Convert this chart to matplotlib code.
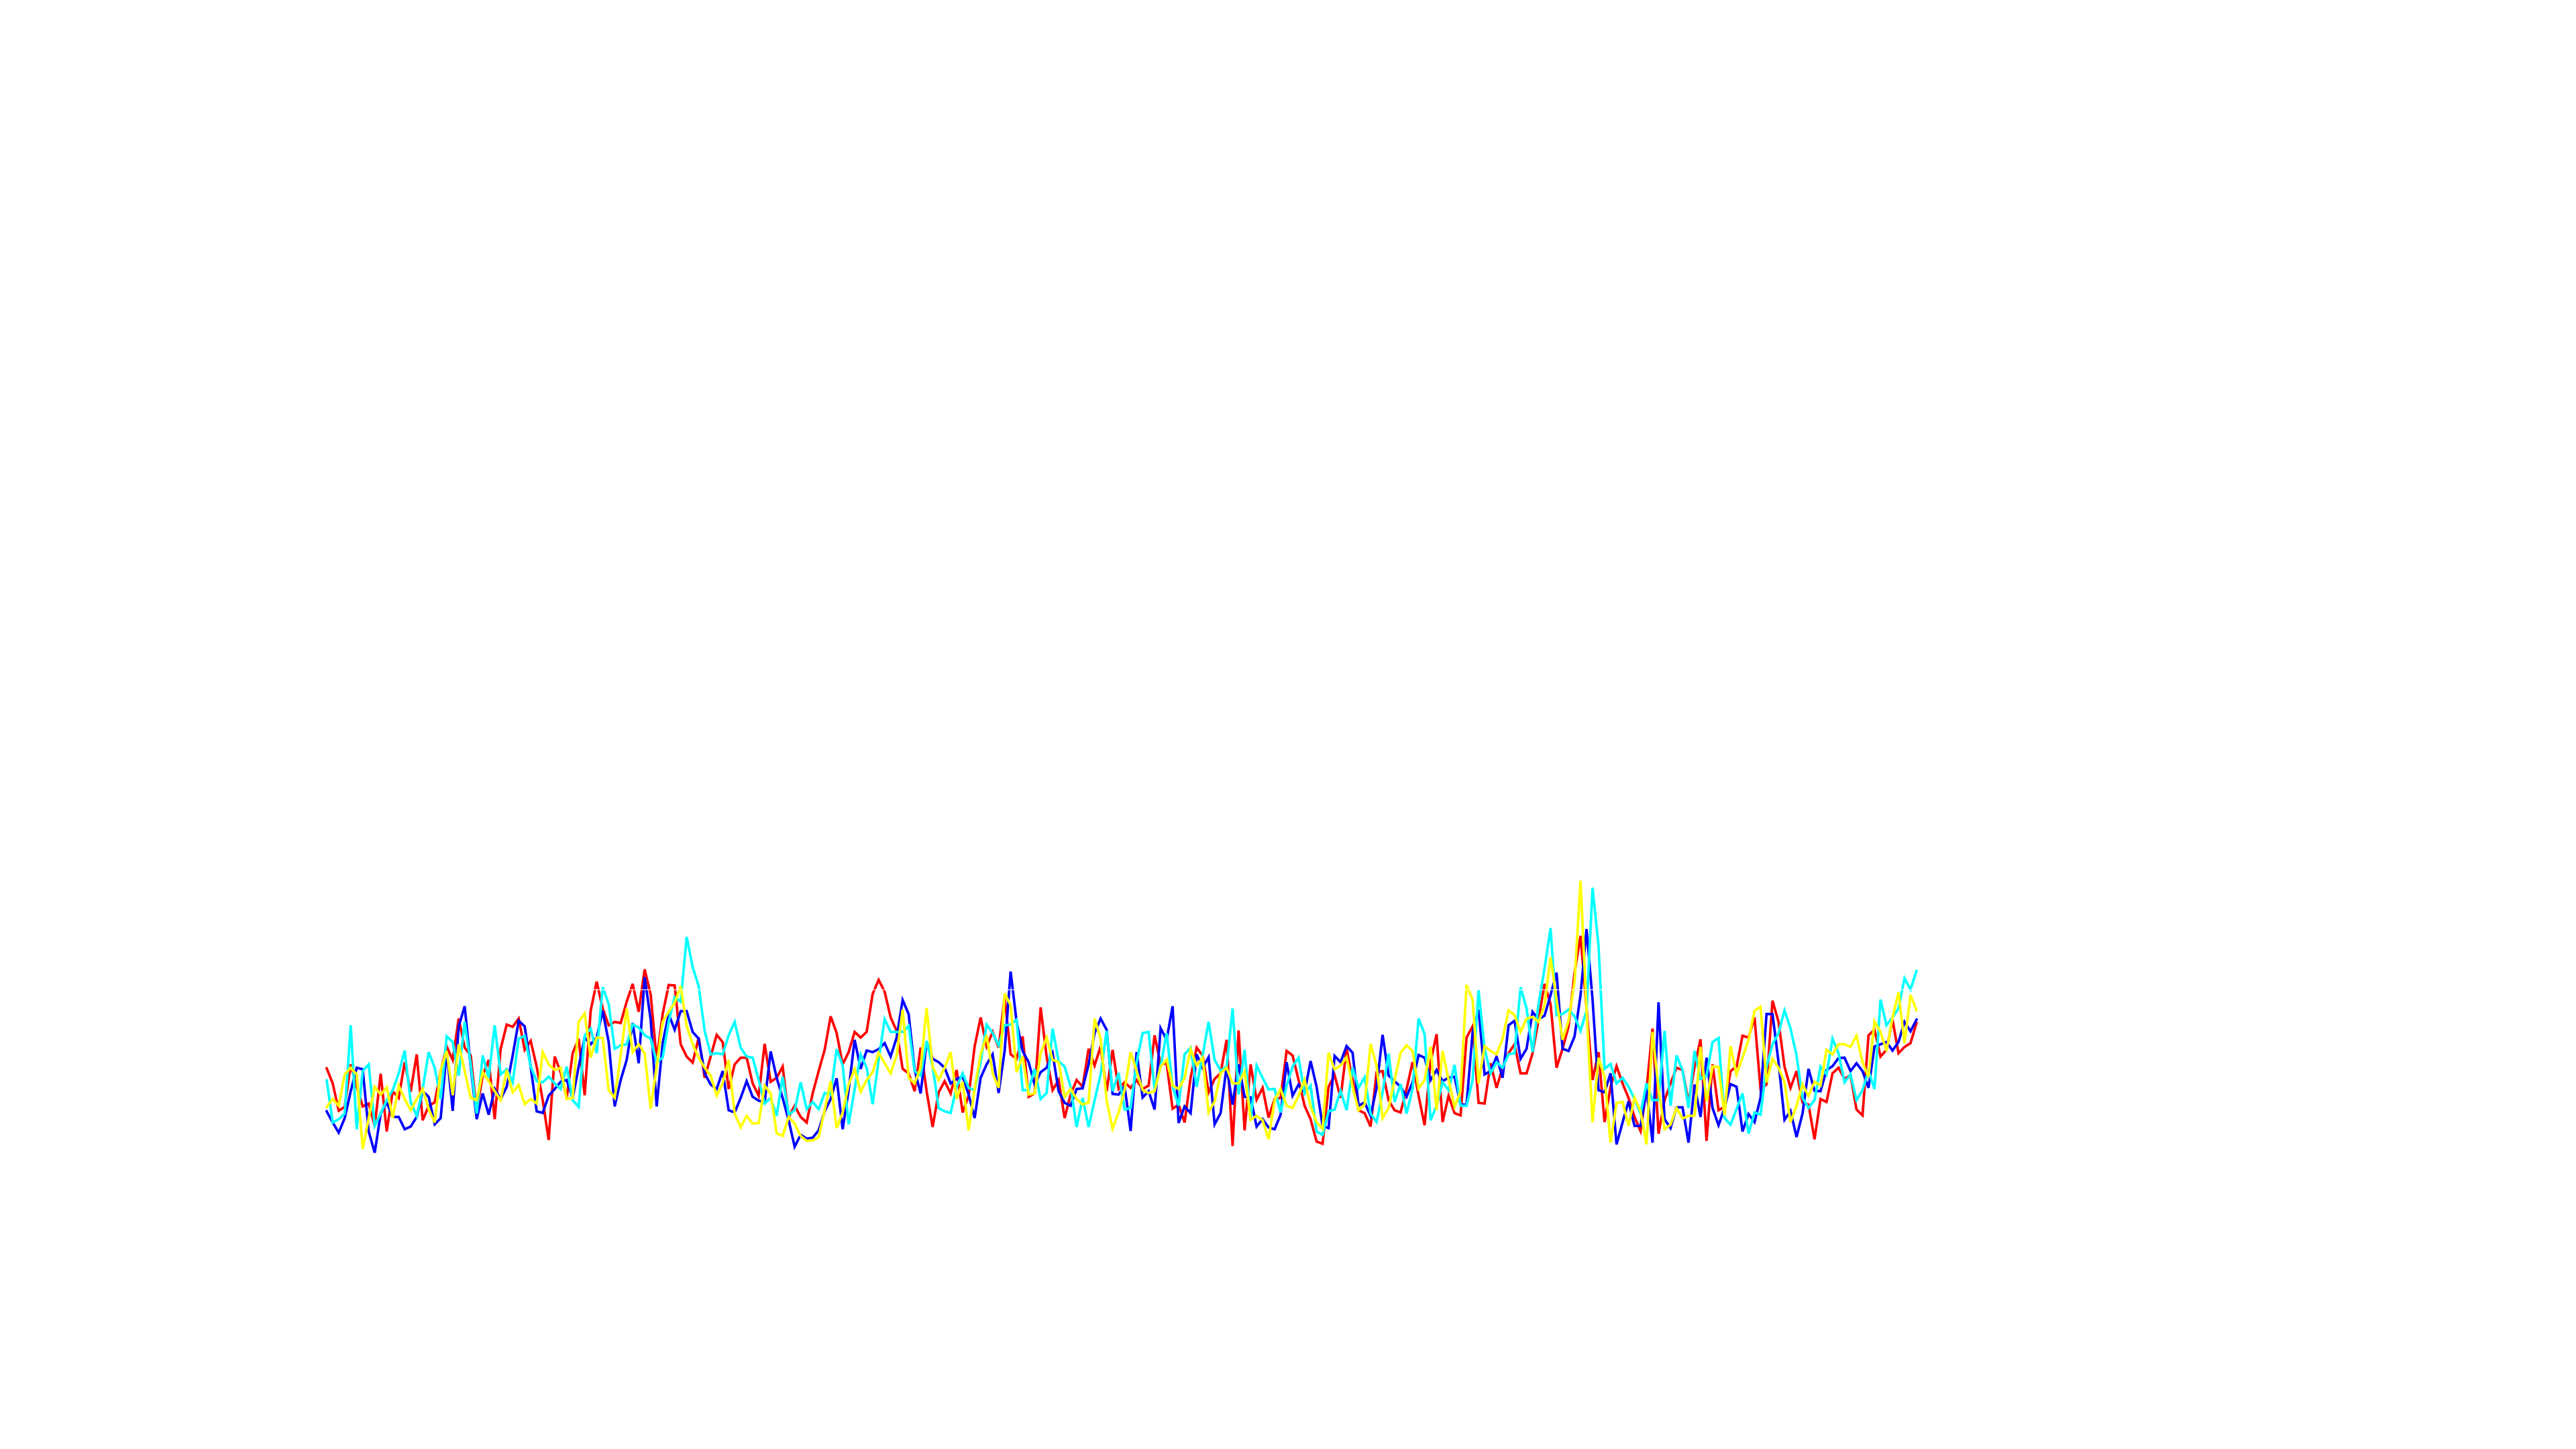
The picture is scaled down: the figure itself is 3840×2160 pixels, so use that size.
import numpy as np
import matplotlib
matplotlib.use("Agg")
import matplotlib.pyplot as plt

# Four series (arbitrary units), one value per step
red = [392, 325, 203, 220, 410, 310, 222, 235, 135, 368, 110, 290, 260, 420, 288, 455, 160, 225, 240, 380,
       490, 430, 615, 485, 450, 200, 360, 430, 165, 480, 588, 578, 615, 475, 515, 400, 250, 72, 445, 375,
       260, 460, 525, 272, 650, 780,
       660, 585, 600, 595, 690, 770, 645, 835, 722, 430, 635, 765, 763, 500, 445, 418, 530, 350, 445, 542,
       510, 300, 410, 440, 440, 325, 270, 502, 332, 350, 400, 175, 225, 175, 150, 280, 380, 475, 625, 550,
       410, 465, 555, 530,
       555, 725, 788, 735, 620, 560, 390, 370, 290, 485, 290, 130, 285, 335, 280, 385, 195, 270, 490, 620,
       490, 555, 485, 710, 455, 435, 535, 265, 280, 665, 445, 295, 340, 170, 275, 340, 310, 480, 405, 490,
       290, 475, 300, 330, 305,
       340, 300, 315, 540, 410, 415, 212, 230, 150, 350, 485, 450, 285, 345, 370, 520, 45, 562, 115, 410,
       252, 305, 172, 255, 260, 470, 450, 340, 225, 165, 65, 55, 310, 362, 260, 480, 340, 205, 192, 132,
       375, 380, 250, 205, 195,
       300, 420, 270, 138, 420, 545, 152, 270, 192, 182, 530, 580, 238, 235, 415, 305, 395, 460, 500, 370,
       370, 460, 610, 770, 680, 395, 480, 580, 820, 985, 660, 340, 465, 152, 310, 402, 325, 260, 175, 112,
       300, 570, 100, 250,
       325, 395, 385, 240, 400, 522, 68, 410, 205, 220, 380, 400, 538, 530, 620, 300, 320, 695, 600, 400,
       305, 380, 240, 230, 75, 255, 242, 370, 395, 345, 362, 208, 182, 540, 565, 445, 475, 610, 460, 488,
       505, 595]

blue = [200, 150, 105, 170, 290, 395, 388, 110, 15, 190, 240, 175, 175, 120, 132, 175, 290, 265, 142, 170,
        470, 202, 580, 670, 400, 165, 280, 185, 300, 255, 310, 450, 605, 580, 400, 200, 193, 270, 300, 332,
        340, 260, 400,
        530, 500, 530, 650, 510, 222, 340, 430, 595, 415, 800, 610, 222, 505, 635, 565, 648, 648, 555, 525,
        370, 320, 300, 380, 205, 195, 260, 335, 265, 248, 240, 468, 350, 260, 160, 42, 95, 78, 82, 115,
        200, 255, 348, 120, 295, 520, 390,
        472, 465, 478, 505, 445, 530, 698, 635, 385, 280, 510, 435, 420, 395, 325, 345, 355, 275, 170, 350,
        410, 455, 282, 470, 825, 600, 470, 420, 320, 375, 395, 460, 290, 238, 225, 300, 303, 410, 550, 615,
        565, 278, 275, 312, 112,
        465, 262, 290, 208, 572, 520, 670, 148, 222, 192, 455, 395, 442, 142, 192, 400, 230, 410, 265, 262,
        132, 165, 128, 120, 185, 420, 270, 320, 285, 425, 310, 135, 125, 448, 420, 492, 462, 225, 240, 180,
        305, 542, 360, 335, 310,
        265, 330, 452, 440, 340, 385, 335, 350, 355, 230, 230, 550, 655, 365, 380, 445, 350, 585, 605, 435,
        480, 645, 612, 628, 720, 820, 480, 470, 535, 720, 1015, 700, 295, 285, 370, 52, 150, 245, 135, 135,
        300, 60, 688, 165,
        125, 218, 218, 60, 320, 175, 440, 215, 138, 215, 322, 310, 110, 188, 152, 260, 635, 635, 420, 162,
        202, 85, 190, 390, 292, 290, 385, 402, 438, 440, 380, 415, 380, 305, 490, 500, 510, 472, 510, 600,
        558, 610]

cyan = [338, 150, 165, 190, 585, 120, 380, 410, 135, 190, 250, 295, 370, 472, 240, 180, 300, 465, 395, 255,
        535, 510, 360, 600, 410, 190, 450, 350, 585, 365, 388, 330, 525, 538, 400, 335, 330, 355, 325, 300,
        400, 250, 220, 540, 570, 460,
        755, 680, 480, 495, 500, 588, 575, 540, 525, 420, 440, 600, 710, 690, 980, 845, 760, 560, 455, 460,
        455, 540, 600, 485, 445, 440, 340, 235, 260, 180, 355, 185, 205, 330, 210, 242, 210, 282, 275, 478,
        405, 142,
        300, 455, 395, 232, 430, 612, 555, 555, 555, 582, 380, 360, 515, 400, 215, 200, 193, 310, 370, 305,
        295, 420, 588, 550, 495, 585, 588, 610, 295, 295, 390, 255, 282, 570, 425, 400, 310, 130, 260, 130,
        250, 365, 560, 290, 372, 208, 215,
        420, 550, 555, 300, 400, 550, 310, 225, 455, 485, 310, 450, 600, 430, 382, 400, 660, 275, 475, 162,
        405, 350, 298, 300, 195, 315, 400, 440, 280, 315, 110, 95, 200, 208, 292, 205, 395, 305, 352, 190,
        152, 285, 458, 242, 322,
        190, 300, 615, 545, 160, 225, 330, 295, 408, 225, 225, 340, 742, 480, 370, 420, 395, 455, 460, 755,
        660, 465, 680, 840, 1020, 630, 635, 655, 625, 560, 650, 1200, 940, 390, 412, 325, 350, 310, 255, 190,
        325, 250, 250, 560, 225,
        450, 385, 215, 470, 345, 360, 510, 528, 170, 140, 210, 280, 100, 195, 185, 400, 500, 550, 652, 570,
        450, 260, 215, 250, 400, 365, 525, 460, 330, 365, 250, 295, 380, 300, 700, 585, 620, 660, 795, 745,
        828]

yellow = [220, 255, 225, 365, 395, 365, 32, 170, 310, 275, 307, 170, 315, 255, 205, 255, 300, 210, 150, 385,
          470, 272, 500, 380, 260, 250, 375, 335, 290, 250, 385, 285, 318, 232, 255, 235, 465, 410, 385, 395,
          255, 260, 600, 638, 440, 530,
          528, 295, 260, 450, 660, 465, 500, 460, 212, 400, 600, 645, 685, 760, 582, 500, 440, 395, 360, 270,
          325, 430, 190, 128, 180, 145, 148, 315, 280, 102, 90, 175, 145, 90, 68, 70, 85, 205, 335, 125,
          195, 320,
          390, 288, 340, 375, 462, 415, 370, 450, 655, 350, 325, 395, 662, 400, 340, 395, 465, 255, 332, 115,
          300, 455, 540, 370, 305, 728, 675, 375, 445, 275, 280, 460, 530, 430, 420, 265, 300, 255, 230, 240,
          615, 525, 250, 122, 195, 295, 465,
          380, 295, 282, 290, 400, 432, 315, 300, 350, 478, 405, 440, 195, 245, 370, 395, 325, 325, 378, 162,
          180, 160, 75, 250, 300, 225, 215, 270, 342, 222, 152, 122, 462, 388, 405, 442, 310, 205, 230, 502,
          405, 170, 215, 340, 462,
          495, 470, 302, 340, 490, 205, 470, 340, 220, 290, 765, 700, 325, 492, 470, 455, 525, 652, 630, 555,
          615, 622, 600, 675, 890, 700, 520, 605, 780, 1232, 650, 152, 440, 355, 60, 238, 242, 135, 262, 200,
          52, 555, 300, 120,
          140, 215, 168, 180, 180, 488, 245, 400, 398, 182, 492, 365, 440, 520, 650, 668, 330, 435, 395, 330,
          152, 225, 320, 270, 332, 315, 475, 455, 500, 500, 488, 538, 420, 355, 602, 555, 470, 620, 732, 505,
          720, 652]

series = [("red", red), ("blue", blue), ("cyan", cyan), ("yellow", yellow)]
grid_level = 746.5

fig = plt.figure(figsize=(19.2, 10.8), dpi=200)
ax = fig.add_axes([0, 0, 1, 1])
for color, vals in series:
    ax.plot(np.arange(len(vals)), vals, color=color, linewidth=1.35, solid_joinstyle="miter")
ax.axhline(grid_level, color="white", linewidth=0.4, zorder=10)
ax.set_xlim(-54.46, 374.93)
ax.set_ylim(-1310, 5170)
ax.axis("off")
fig.savefig("out.png", dpi=200, facecolor="white")
